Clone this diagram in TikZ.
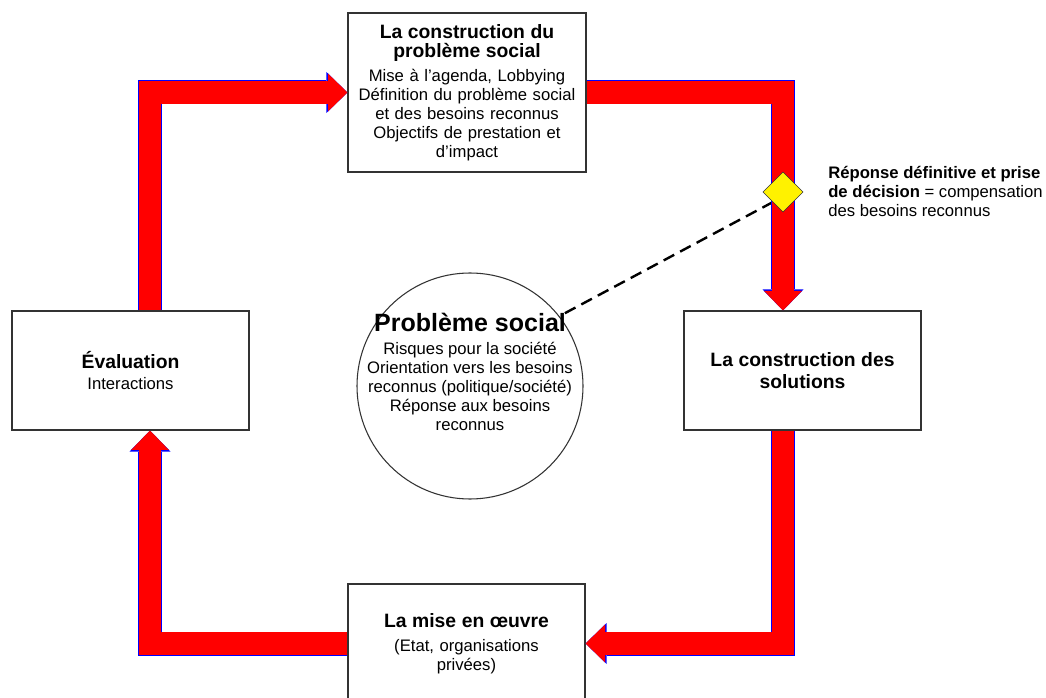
\documentclass[tikz,border=0pt]{standalone}
\usepackage{fontspec}
\setmainfont{Liberation Sans}
\usetikzlibrary{arrows.meta,shapes.geometric,calc}
\newcommand{\bodyfont}{\fontsize{12.5pt}{14.25pt}\selectfont}
\newcommand{\headfont}{\bfseries\fontsize{14.5pt}{16pt}\selectfont}
\tikzset{
  box/.style={draw=black!80,line width=0.8pt,fill=white,inner sep=0pt,align=center,font=\bodyfont},
  bigarrow/.style={draw=blue,line width=18pt,line join=miter,
    -{Triangle[length=15.75pt,width=30.75pt,line width=0pt]},
    postaction={draw=red,line width=16.8pt,-{Triangle[length=14.6pt,width=28.3pt,line width=0pt]}}}
}
\begin{document}
\begin{tikzpicture}[x=0.75pt,y=-0.75pt]
    \useasboundingbox (0,0) rectangle (1046,698);

    \node[box,text width=178.5pt,minimum height=119.25pt] (top) at (467,92.5)
        {{\headfont La construction du\\problème social}\\[3.5pt]Mise à l’agenda, Lobbying\\Définition du problème social\\et des besoins reconnus\\Objectifs de prestation et\\d’impact};
    \node[box,text width=177.75pt,minimum height=89.25pt] (eval) at (130.5,370.5)
        {{\headfont Évaluation}\\[2pt]Interactions};
    \node[box,text width=177.75pt,minimum height=89.25pt] (sol) at (802.5,370.5)
        {{\headfont La construction des\\solutions\par}};
    \node[box,text width=177.75pt,minimum height=89.25pt] (impl) at (466.5,643.5)
        {{\headfont La mise en œuvre}\\[2.5pt]\fontsize{12.5pt}{15.5pt}\selectfont(Etat, organisations\\privées)};

    \node[draw=black!80,line width=0.8pt,circle,minimum size=169.5pt,inner sep=0pt] (prob) at (470,386) {};
    \node[align=center,font=\bodyfont] (probtxt) at (470,372)
        {{\bfseries\fontsize{18.75pt}{20pt}\selectfont Problème social}\\[3pt]Risques pour la société\\Orientation vers les besoins\\reconnus (politique/société)\\Réponse aux besoins\\reconnus};

    \node[anchor=west,align=left,font=\bodyfont,inner sep=0pt] (note) at (828,191)
        {\textbf{Réponse définitive et prise}\\\textbf{de décision} = compensation\\des besoins reconnus};

    \path [draw,line width=1.8pt,dash pattern=on 9pt off 5pt] (783,192) ++(-10,10) coordinate (dsw) (dsw) -- (prob.38);

    \path [bigarrow] ($(eval.north)+(19.5,0)$) |- (top.west);
    \path [bigarrow] (top.east) -| ($(sol.north)+(-19.5,0)$);
    \path [bigarrow] ($(sol.south)+(-19.5,0)$) |- (impl.east);
    \path [bigarrow] (impl.west) -| ($(eval.south)+(19.5,0)$);

    \node[diamond,draw=black!80,fill=yellow,minimum size=30pt,inner sep=0pt,aspect=1] (dec) at (783,192) {};
\end{tikzpicture}
\end{document}
